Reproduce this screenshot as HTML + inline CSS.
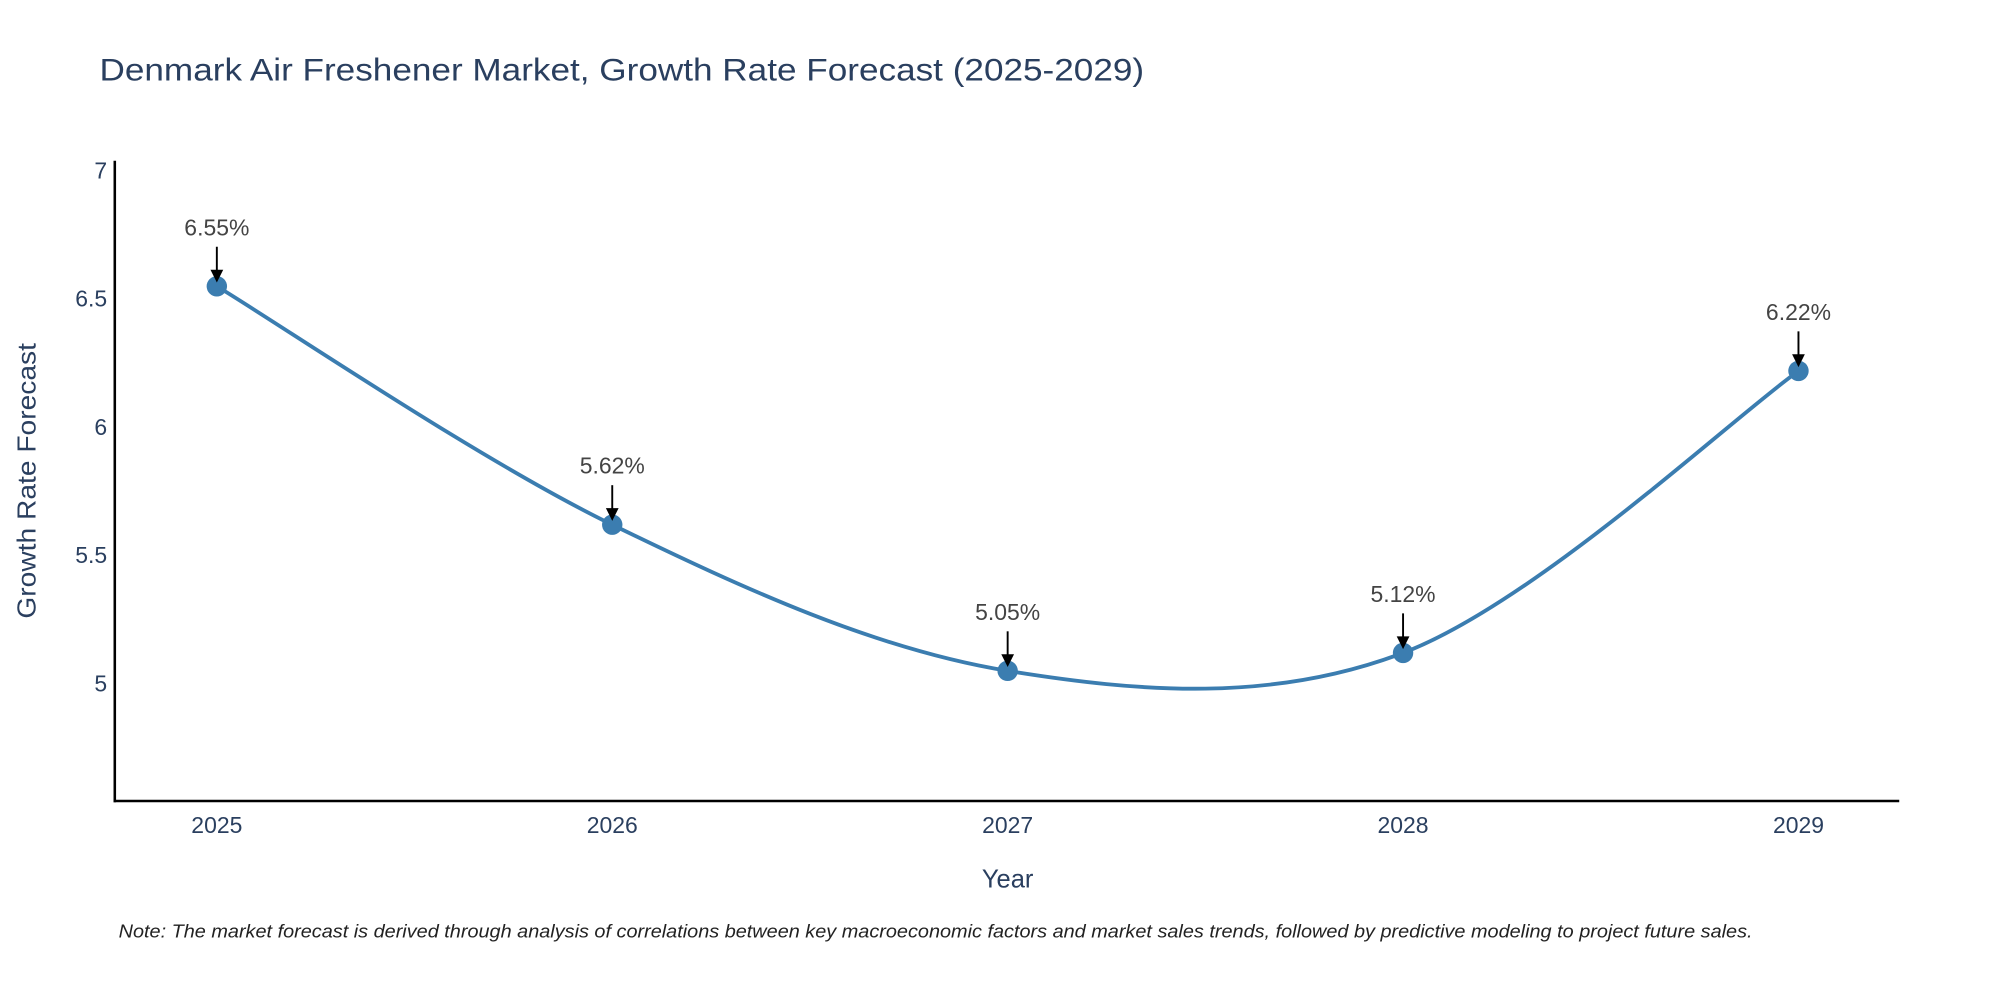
<!DOCTYPE html>
<html><head><meta charset="utf-8"><style>
html,body{margin:0;padding:0;background:#fff;}
svg{display:block;font-family:"Liberation Sans",sans-serif;}
</style></head><body>
<svg id="chart" width="2000" height="1000" viewBox="0 0 1568 784" xmlns="http://www.w3.org/2000/svg">
<text x="78" y="63" font-size="25" fill="#2a3f5f" textLength="819" lengthAdjust="spacingAndGlyphs">Denmark Air Freshener Market, Growth Rate Forecast (2025-2029)</text>
<g id="yticks"></g><g id="xticks"></g>
<line x1="90" y1="126" x2="90" y2="629" stroke="#000" stroke-width="2"/>
<line x1="89" y1="628" x2="1489" y2="628" stroke="#000" stroke-width="2"/>
<text transform="translate(28,377) rotate(-90)" text-anchor="middle" font-size="20" fill="#2a3f5f" textLength="216" lengthAdjust="spacingAndGlyphs">Growth Rate Forecast</text>
<text x="790" y="696" text-anchor="middle" font-size="20" fill="#2a3f5f">Year</text>
<g id="series"></g>
<text x="93" y="735" font-size="14.5" font-style="italic" fill="#222" textLength="1281" lengthAdjust="spacingAndGlyphs">Note: The market forecast is derived through analysis of correlations between key macroeconomic factors and market sales trends, followed by predictive modeling to project future sales.</text>
</svg>
<script>
const years = [2025, 2026, 2027, 2028, 2029];
const values = [6.55, 5.62, 5.05, 5.12, 6.22];
const labels = ["6.55%", "5.62%", "5.05%", "5.12%", "6.22%"];
const yTicks = [5, 5.5, 6, 6.5, 7];
const yTickLabels = ["5", "5.5", "6", "6.5", "7"];

const NS = "http://www.w3.org/2000/svg";
function xs(v){ return 170 + (v - 2025) * 310; }
function ys(v){ return 536 - (v - 5) * 201; }
function mk(tag, attrs, parent){ const e = document.createElementNS(NS, tag); for (const k in attrs) e.setAttribute(k, attrs[k]); parent.appendChild(e); return e; }

const yt = document.getElementById('yticks');
yTicks.forEach((t, i) => {
  const e = mk('text', {x: 84, y: ys(t) + 6, 'text-anchor': 'end', 'font-size': 18, fill: '#2a3f5f'}, yt);
  
  
  e.textContent = yTickLabels[i];
});
const xt = document.getElementById('xticks');
years.forEach(y => {
  const e = mk('text', {x: xs(y), y: 653, 'text-anchor': 'middle', 'font-size': 18, fill: '#2a3f5f'}, xt);
  
  
  e.textContent = y;
});

const s = document.getElementById('series');
const pts = years.map((y, i) => [xs(y), ys(values[i])]);
let d = 'M' + pts[0][0] + ',' + pts[0][1];
for (let i = 0; i < pts.length - 1; i++) {
  const p0 = pts[Math.max(0, i - 1)], p1 = pts[i], p2 = pts[i + 1], p3 = pts[Math.min(pts.length - 1, i + 2)];
  const c1 = [p1[0] + (p2[0] - p0[0]) / 6, p1[1] + (p2[1] - p0[1]) / 6];
  const c2 = [p2[0] - (p3[0] - p1[0]) / 6, p2[1] - (p3[1] - p1[1]) / 6];
  d += ' C' + c1[0] + ',' + c1[1] + ' ' + c2[0] + ',' + c2[1] + ' ' + p2[0] + ',' + p2[1];
}
const line = mk('path', {d: d, fill: 'none', stroke: '#3b7db0', 'stroke-width': 3}, s);



pts.forEach((p, i) => {
  const c = mk('circle', {cx: p[0], cy: p[1], r: 8, fill: '#3b7db0'}, s);
  
  
  const a = mk('line', {x1: p[0], y1: p[1] - 31, x2: p[0], y2: p[1] - 12, stroke: '#000', 'stroke-width': 1.5}, s);
  
  
  const h = mk('polygon', {points: (p[0]-5)+','+(p[1]-13)+' '+(p[0]+5)+','+(p[1]-13)+' '+p[0]+','+(p[1]-3)}, s);
  
  
  const t = mk('text', {x: p[0], y: p[1] - 40, 'text-anchor': 'middle', 'font-size': 18, fill: '#444'}, s);
  
  
  t.textContent = labels[i];
});
</script>
</body></html>
